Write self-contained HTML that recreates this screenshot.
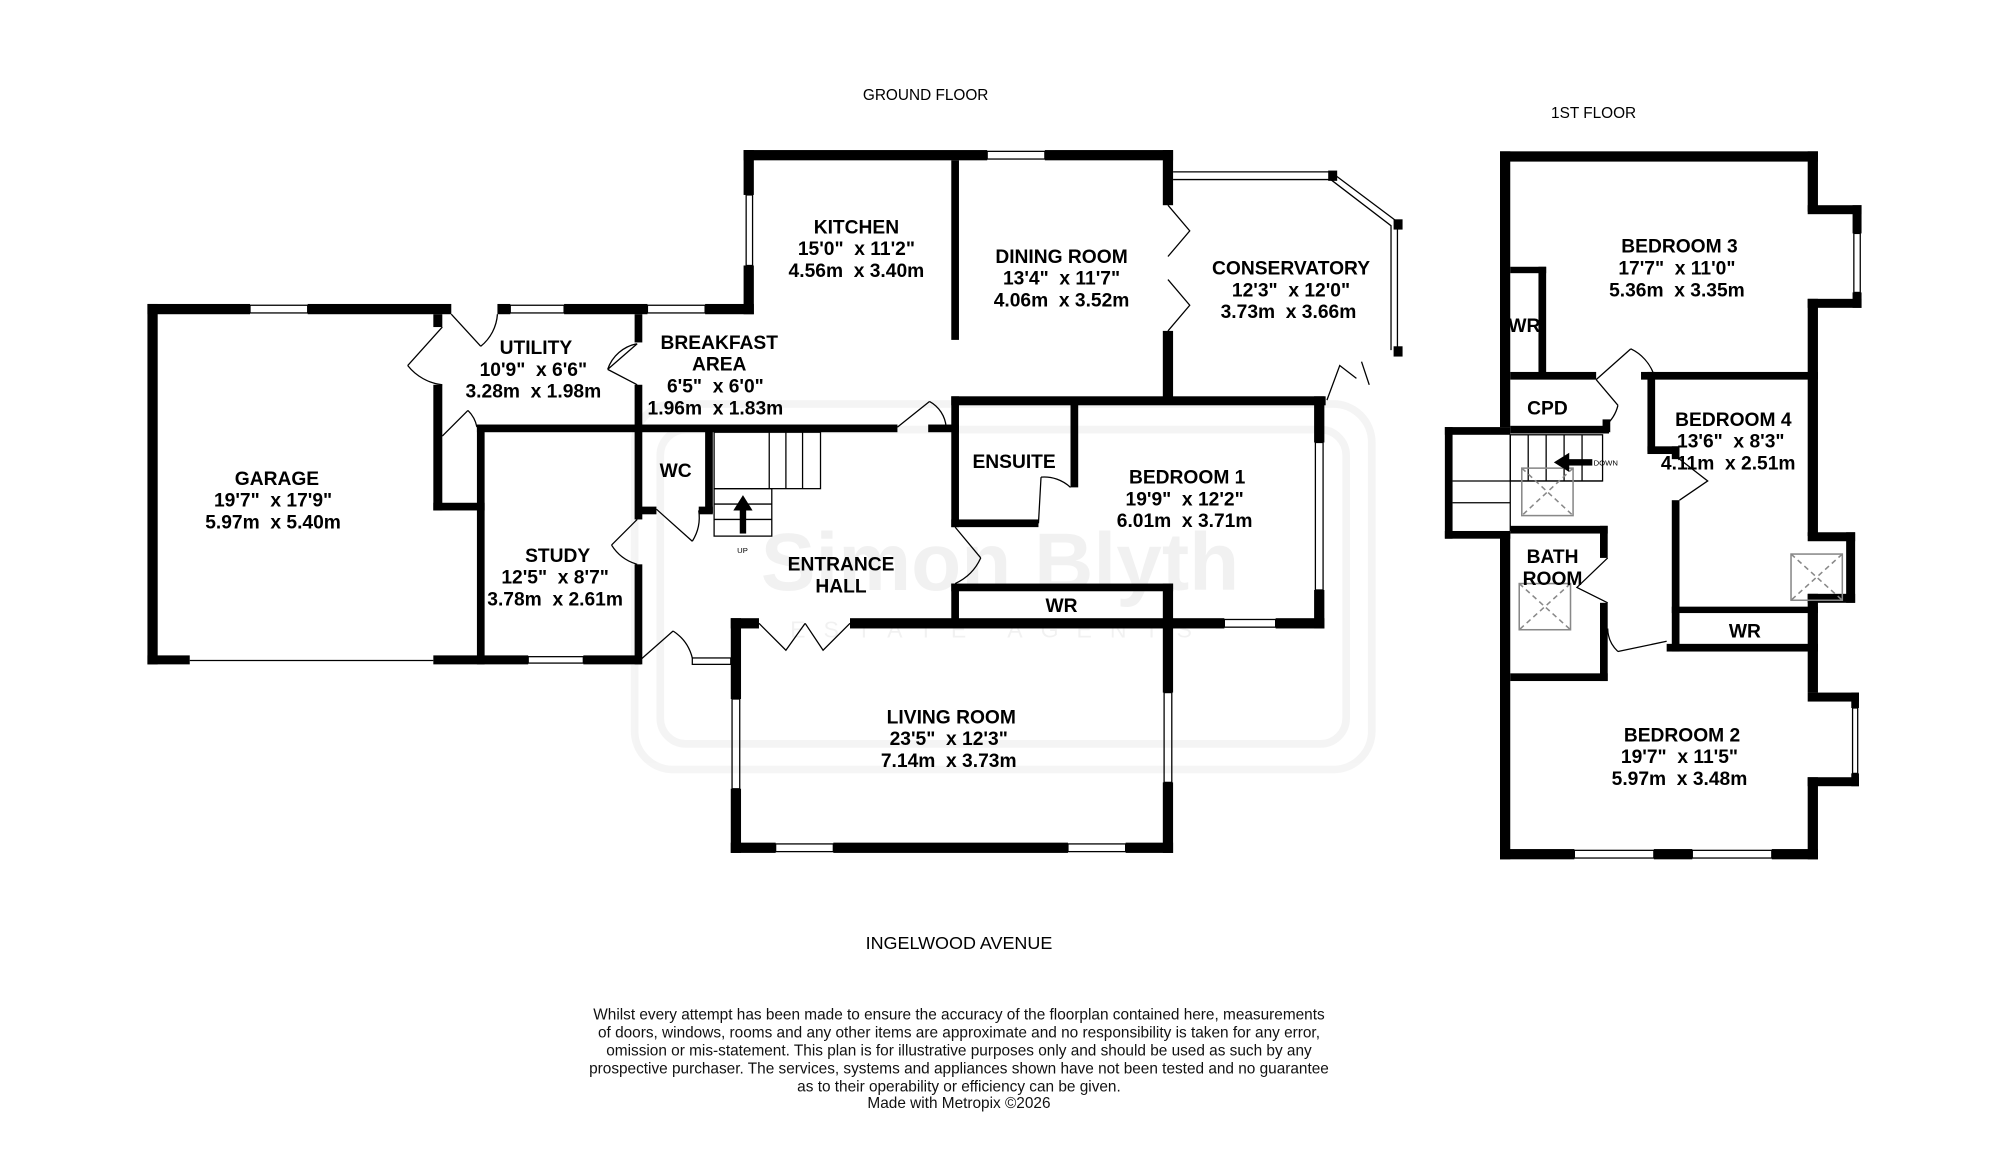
<!DOCTYPE html>
<html><head><meta charset="utf-8"><style>
html,body{margin:0;padding:0;background:#fff;}
svg{display:block;}
text{font-family:"Liberation Sans",sans-serif;white-space:pre;}
.r{font-weight:bold;font-size:15px;text-anchor:middle;}
</style></head><body>
<svg width="2000" height="1162" viewBox="0 0 1560 906" preserveAspectRatio="none" xmlns="http://www.w3.org/2000/svg">
<rect width="1560" height="906" fill="#fff"/>
<!-- watermark -->
<g opacity="0.04" fill="none" stroke="#000" stroke-width="6">
<rect x="495" y="315" width="575" height="285" rx="30"/>
<rect x="515" y="335" width="535" height="245" rx="20"/>
</g>
<text x="780" y="460" font-family="Liberation Serif" font-size="64" text-anchor="middle" fill="#000" opacity="0.05" font-weight="bold">Simon Blyth</text>
<text x="780" y="497" font-family="Liberation Serif" font-size="18" text-anchor="middle" fill="#000" opacity="0.05" letter-spacing="14">ESTATE AGENTS</text>

<g fill="#000">
<rect x="115" y="237" width="80" height="8"/>
<rect x="240" y="237" width="112" height="8"/>
<rect x="115" y="237" width="8" height="281"/>
<rect x="115" y="511" width="33" height="7"/>
<rect x="338" y="511" width="74" height="7"/>
<rect x="455" y="511" width="45" height="7"/>
<rect x="388" y="237" width="10" height="8"/>
<rect x="440" y="237" width="65" height="8"/>
<rect x="550" y="237" width="38" height="8"/>
<rect x="338" y="245" width="7" height="10"/>
<rect x="338" y="300" width="7" height="98"/>
<rect x="338" y="392" width="40" height="6"/>
<rect x="372" y="333" width="6" height="185"/>
<rect x="372" y="331" width="328" height="6"/>
<rect x="724" y="331" width="24" height="6"/>
<rect x="495" y="245" width="6" height="22"/>
<rect x="495" y="300" width="6" height="105"/>
<rect x="495" y="440" width="6" height="78"/>
<rect x="550" y="336" width="6" height="64"/>
<rect x="497" y="395" width="15" height="6"/>
<rect x="545" y="395" width="11" height="6"/>
<rect x="580" y="117" width="8" height="35"/>
<rect x="580" y="207" width="8" height="38"/>
<rect x="580" y="117" width="190" height="8"/>
<rect x="815" y="117" width="100" height="8"/>
<rect x="742" y="125" width="6" height="140"/>
<rect x="907" y="117" width="8" height="43"/>
<rect x="907" y="258" width="8" height="54"/>
<rect x="742" y="309" width="292" height="7"/>
<rect x="742" y="309" width="6" height="102"/>
<rect x="742" y="455" width="6" height="32"/>
<rect x="742" y="405" width="68" height="6"/>
<rect x="835" y="312" width="6" height="68"/>
<rect x="1025" y="309" width="8" height="36"/>
<rect x="1025" y="460" width="8" height="30"/>
<rect x="910" y="482" width="45" height="8"/>
<rect x="995" y="482" width="38" height="8"/>
<rect x="742" y="455" width="173" height="6"/>
<rect x="907" y="455" width="8" height="35"/>
<rect x="570" y="482" width="22" height="8"/>
<rect x="663" y="482" width="252" height="8"/>
<rect x="570" y="482" width="8" height="63"/>
<rect x="570" y="615" width="8" height="50"/>
<rect x="907" y="482" width="8" height="58"/>
<rect x="907" y="610" width="8" height="55"/>
<rect x="570" y="657" width="35" height="8"/>
<rect x="650" y="657" width="183" height="8"/>
<rect x="878" y="657" width="37" height="8"/>
<rect x="1036" y="133" width="7" height="8"/>
<rect x="1087" y="171" width="7" height="8"/>
<rect x="1087" y="270" width="7" height="8"/>

<rect x="1170" y="118" width="248" height="8"/>
<rect x="1170" y="118" width="8" height="215"/>
<rect x="1170" y="415" width="8" height="255"/>
<rect x="1410" y="118" width="8" height="47"/>
<rect x="1410" y="160" width="42" height="7"/>
<rect x="1445" y="160" width="7" height="22"/>
<rect x="1445" y="228" width="7" height="12"/>
<rect x="1410" y="233" width="42" height="7"/>
<rect x="1410" y="233" width="8" height="185"/>
<rect x="1410" y="415" width="37" height="7"/>
<rect x="1440" y="415" width="7" height="55"/>
<rect x="1410" y="463" width="37" height="7"/>
<rect x="1410" y="463" width="8" height="77"/>
<rect x="1410" y="540" width="40" height="7"/>
<rect x="1444" y="540" width="6" height="12"/>
<rect x="1444" y="603" width="6" height="10"/>
<rect x="1410" y="606" width="40" height="7"/>
<rect x="1410" y="606" width="8" height="64"/>
<rect x="1170" y="662" width="58" height="8"/>
<rect x="1290" y="662" width="30" height="8"/>
<rect x="1382" y="662" width="36" height="8"/>
<rect x="1127" y="333" width="51" height="6"/>
<rect x="1127" y="333" width="6" height="87"/>
<rect x="1127" y="414" width="51" height="6"/>
<rect x="1178" y="208" width="28" height="5"/>
<rect x="1200" y="208" width="6" height="85"/>
<rect x="1178" y="290" width="67" height="6"/>
<rect x="1178" y="332" width="77" height="6"/>
<rect x="1250" y="327" width="6" height="10"/>
<rect x="1280" y="290" width="138" height="6"/>
<rect x="1285" y="290" width="6" height="62"/>
<rect x="1285" y="348" width="25" height="6"/>
<rect x="1304" y="348" width="6" height="10"/>
<rect x="1304" y="390" width="6" height="118"/>
<rect x="1304" y="473" width="114" height="5"/>
<rect x="1300" y="502" width="118" height="6"/>
<rect x="1178" y="410" width="76" height="6"/>
<rect x="1248" y="410" width="6" height="25"/>
<rect x="1248" y="470" width="6" height="61"/>
<rect x="1178" y="525" width="76" height="6"/>
</g>

<g fill="none" stroke="#000" stroke-width="1">
<rect x="195" y="238" width="45" height="6"/>
<rect x="398" y="238" width="42" height="6"/>
<rect x="505" y="238" width="45" height="6"/>
<rect x="582" y="152" width="5" height="55"/>
<rect x="770" y="118" width="45" height="6"/>
<rect x="1026" y="345" width="6" height="115"/>
<rect x="955" y="483" width="40" height="6"/>
<rect x="571" y="545" width="6" height="70"/>
<rect x="908" y="540" width="6" height="70"/>
<rect x="605" y="658" width="45" height="6"/>
<rect x="833" y="658" width="45" height="6"/>
<rect x="412" y="512" width="43" height="5"/>
<rect x="540" y="513" width="30" height="5"/>
<line x1="148" y1="515" x2="338" y2="515"/>
<polyline points="915,134 1038,134 1090,173 1090,273"/>
<polyline points="915,140 1038,140 1085,176 1085,273"/>
<rect x="1446" y="182" width="5" height="46"/>
<rect x="1445" y="552" width="4" height="51"/>
<rect x="1228" y="663" width="62" height="6"/>
<rect x="1320" y="663" width="62" height="6"/>
<path d="M352,245 L375,270 M388,245 A35,35 0 0 1 375,270"/>
<path d="M345,255 L318,285 M345,300 A40,40 0 0 1 318,285"/>
<path d="M345,340 L365,320 M372,333 A25,25 0 0 0 365,320"/>
<path d="M497,268 L474,288 M497,268 A30,30 0 0 0 474,288 M474,288 L497,300"/>
<path d="M700,333 L725,313 M738,333 A25,25 0 0 0 725,313"/>
<path d="M512,397 L540,422 M545,398 A35,35 0 0 1 540,422"/>
<path d="M497,405 L477,425 M497,440 A35,35 0 0 1 477,425"/>
<path d="M500,514 L525,492 M540,513 A35,35 0 0 0 525,492"/>
<path d="M745,411 L765,435 M745,455 A40,40 0 0 0 765,435"/>
<path d="M810,408 L812,372 M835,380 A30,30 0 0 0 812,372"/>
<path d="M592,486 L613,507 L628,486 M663,486 L642,507 L628,486"/>
<path d="M911,160 L928,180 L911,200 M911,258 L928,238 L911,218"/>
<path d="M1035,312 L1045,285 L1058,295 M1062,282 L1068,300"/>
<rect x="557" y="337" width="83" height="44"/>
<rect x="557" y="381" width="45" height="37"/>
<line x1="600" y1="337" x2="600" y2="381"/>
<line x1="613" y1="337" x2="613" y2="381"/>
<line x1="626" y1="337" x2="626" y2="381"/>
<line x1="557" y1="393" x2="602" y2="393"/>
<line x1="557" y1="405" x2="602" y2="405"/>
<path d="M1245,296 L1272,272 M1290,292 A35,35 0 0 0 1272,272"/>
<path d="M1245,296 L1262,316 M1252,332 A30,30 0 0 0 1262,316"/>
<path d="M1310,358 L1332,375 L1310,390"/>
<path d="M1254,435 L1230,458 L1254,470"/>
<path d="M1262,508 L1300,500 M1262,508 A25,25 0 0 1 1254,490"/>
<rect x="1178" y="339" width="72" height="36"/>
<line x1="1133" y1="375" x2="1250" y2="375"/>
<line x1="1133" y1="392" x2="1178" y2="392"/>
<line x1="1178" y1="339" x2="1178" y2="414"/>
<line x1="1192" y1="339" x2="1192" y2="375"/>
<line x1="1206" y1="339" x2="1206" y2="375"/>
<line x1="1220" y1="339" x2="1220" y2="375"/>
<line x1="1234" y1="339" x2="1234" y2="375"/>
</g>
<g fill="none" stroke="#888" stroke-width="1.2">
<rect x="1187" y="365" width="40" height="37"/>
<path d="M1187,365 L1227,402 M1227,365 L1187,402" stroke-dasharray="4,3"/>
<rect x="1185" y="455" width="40" height="36"/>
<path d="M1185,455 L1225,491 M1225,455 L1185,491" stroke-dasharray="4,3"/>
<rect x="1397" y="432" width="40" height="36"/>
<path d="M1397,432 L1437,468 M1437,432 L1397,468" stroke-dasharray="4,3"/>
</g>
<rect x="577" y="396" width="5" height="20" fill="#000"/>
<polygon points="572,398 579.5,386 587,398" fill="#000"/>
<rect x="1222" y="358" width="20" height="5" fill="#000"/>
<polygon points="1224,353 1212,360.5 1224,368" fill="#000"/>
<text x="1243" y="363" font-size="6">DOWN</text>
<text x="575" y="431" font-size="6">UP</text>

<text x="722" y="78" font-size="12" text-anchor="middle">GROUND FLOOR</text>
<text x="1243" y="92" font-size="12" text-anchor="middle">1ST FLOOR</text>
<text class="r" x="668" y="182">KITCHEN</text><text class="r" x="668" y="199">15'0"  x 11'2"</text><text class="r" x="668" y="216">4.56m  x 3.40m</text>
<text class="r" x="828" y="205">DINING ROOM</text><text class="r" x="828" y="222">13'4"  x 11'7"</text><text class="r" x="828" y="239">4.06m  x 3.52m</text>
<text class="r" x="1007" y="214">CONSERVATORY</text><text class="r" x="1007" y="231">12'3"  x 12'0"</text><text class="r" x="1005" y="248">3.73m  x 3.66m</text>
<text class="r" x="418" y="276">UTILITY</text><text class="r" x="416" y="293">10'9"  x 6'6"</text><text class="r" x="416" y="310">3.28m  x 1.98m</text>
<text class="r" x="561" y="272">BREAKFAST</text><text class="r" x="561" y="289">AREA</text><text class="r" x="558" y="306">6'5"  x 6'0"</text><text class="r" x="558" y="323">1.96m  x 1.83m</text>
<text class="r" x="216" y="378">GARAGE</text><text class="r" x="213" y="395">19'7"  x 17'9"</text><text class="r" x="213" y="412">5.97m  x 5.40m</text>
<text class="r" x="527" y="372">WC</text>
<text class="r" x="435" y="438">STUDY</text><text class="r" x="433" y="455">12'5"  x 8'7"</text><text class="r" x="433" y="472">3.78m  x 2.61m</text>
<text class="r" x="656" y="445">ENTRANCE</text><text class="r" x="656" y="462">HALL</text>
<text class="r" x="791" y="365">ENSUITE</text>
<text class="r" x="926" y="377">BEDROOM 1</text><text class="r" x="924" y="394">19'9"  x 12'2"</text><text class="r" x="924" y="411">6.01m  x 3.71m</text>
<text class="r" x="828" y="477">WR</text>
<text class="r" x="742" y="564">LIVING ROOM</text><text class="r" x="740" y="581">23'5"  x 12'3"</text><text class="r" x="740" y="598">7.14m  x 3.73m</text>
<text class="r" x="1310" y="197">BEDROOM 3</text><text class="r" x="1308" y="214">17'7"  x 11'0"</text><text class="r" x="1308" y="231">5.36m  x 3.35m</text>
<text class="r" x="1189" y="259">WR</text>
<text class="r" x="1207" y="323">CPD</text>
<text class="r" x="1352" y="332">BEDROOM 4</text><text class="r" x="1350" y="349">13'6"  x 8'3"</text><text class="r" x="1348" y="366">4.11m  x 2.51m</text>
<text class="r" x="1211" y="439">BATH</text><text class="r" x="1211" y="456">ROOM</text>
<text class="r" x="1361" y="497">WR</text>
<text class="r" x="1312" y="578">BEDROOM 2</text><text class="r" x="1310" y="595">19'7"  x 11'5"</text><text class="r" x="1310" y="612">5.97m  x 3.48m</text>
<text x="748" y="740" font-size="14" text-anchor="middle">INGELWOOD AVENUE</text>
<g font-size="12" text-anchor="middle" fill="#111">
<text x="748" y="795">Whilst every attempt has been made to ensure the accuracy of the floorplan contained here, measurements</text>
<text x="748" y="809">of doors, windows, rooms and any other items are approximate and no responsibility is taken for any error,</text>
<text x="748" y="823">omission or mis-statement. This plan is for illustrative purposes only and should be used as such by any</text>
<text x="748" y="837">prospective purchaser. The services, systems and appliances shown have not been tested and no guarantee</text>
<text x="748" y="851">as to their operability or efficiency can be given.</text>
<text x="748" y="864">Made with Metropix ©2026</text>
</g>
</svg>
</body></html>
